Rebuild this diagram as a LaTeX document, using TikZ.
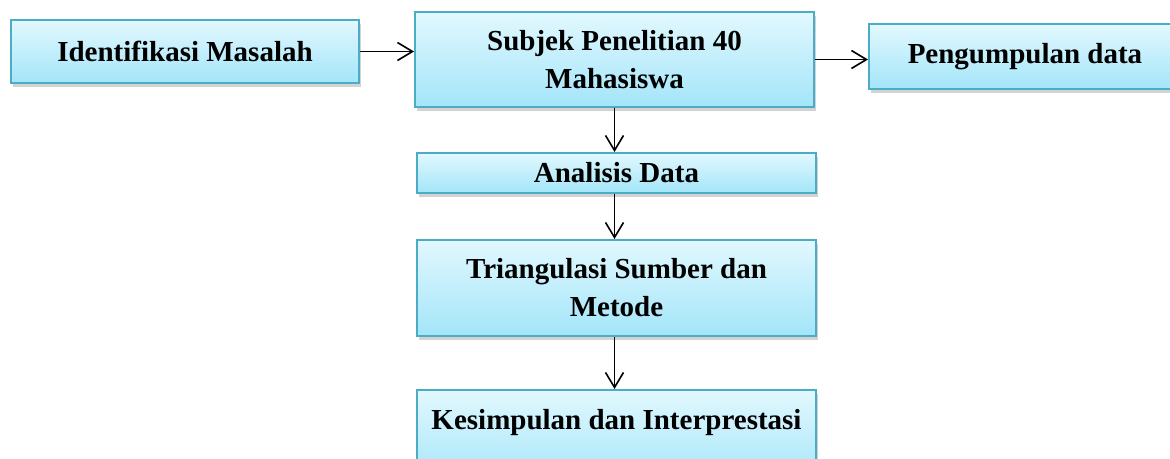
\documentclass[tikz,border=0pt]{standalone}
\usepackage{fontspec}
\setmainfont{Liberation Serif}
\usetikzlibrary{arrows.meta}
\usetikzlibrary{shadows}
\definecolor{boxtop}{HTML}{E2F8FE}
\definecolor{boxbot}{HTML}{A3E5F9}
\definecolor{boxline}{HTML}{4BACC6}
\tikzset{
  flowbox/.style={draw=boxline, line width=1pt, top color=boxtop, bottom color=boxbot, inner sep=0pt, align=center, font=\fontsize{14.5}{19}\selectfont\bfseries, drop shadow={opacity=0.35, shadow xshift=1.2pt, shadow yshift=-2pt}},
  flowarrow/.style={-{Straight Barb[length=7.5pt,width=9pt]}, line width=0.8pt, black}
}
\begin{document}
\begin{tikzpicture}[x=0.5pt,y=-0.5pt]
\clip (0,0) rectangle (1170,459);
\node[flowbox, minimum width=174pt, minimum height=31.5pt] (idm) at (185,51.5) {Identifikasi Masalah};
\node[flowbox, minimum width=199.5pt, minimum height=47.5pt] (subjek) at (614.5,59.5) {Subjek Penelitian 40\\Mahasiswa};
\node[flowbox, minimum width=156pt, minimum height=32.5pt] (kumpul) at (1025,56.5) {Pengumpulan data};
\node[flowbox, minimum width=199.5pt, minimum height=20pt] (analisis) at (616.5,173) {Analisis Data};
\node[flowbox, minimum width=199.5pt, minimum height=48pt] (tri) at (616.5,288) {Triangulasi Sumber dan\\Metode};
\node[flowbox, minimum width=199.5pt, minimum height=48pt] (kes) at (616.5,438) {Kesimpulan dan Interprestasi\\~};
\draw[flowarrow] (idm.east) -- (idm.east -| subjek.west);
\draw[flowarrow] (subjek.east) -- (subjek.east -| kumpul.west);
\draw[flowarrow] (subjek.south) -- (subjek.south |- analisis.north);
\draw[flowarrow] (analisis.south -| subjek.south) -- (subjek.south |- tri.north);
\draw[flowarrow] (tri.south -| subjek.south) -- (subjek.south |- kes.north);
\end{tikzpicture}
\end{document}
